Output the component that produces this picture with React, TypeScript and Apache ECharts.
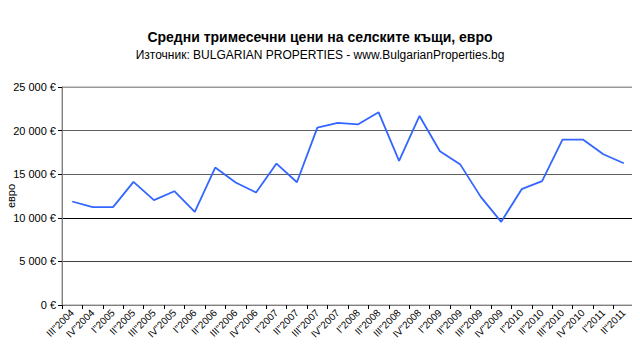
import React, { useEffect, useRef } from "react";
import * as echarts from "echarts";

const categories = [
  'III"2004', 'IV"2004', 'I"2005', 'II"2005', 'III"2005', 'IV"2005',
  'I"2006', 'II"2006', 'III"2006', 'IV"2006', 'I"2007', 'II"2007',
  'III"2007', 'IV"2007', 'I"2008', 'II"2008', 'III"2008', 'IV"2008',
  'I"2009', 'II"2009', 'III"2009', 'IV"2009', 'I"2010', 'II"2010',
  'III"2010', 'IV"2010', 'I"2011', 'II"2011',
];

const prices = [
  11870, 11220, 11220, 14120, 12020, 13050, 10690, 15760, 14050, 12900,
  16220, 14080, 20340, 20880, 20720, 22100, 16530, 21680, 17630, 16100,
  12400, 9540, 13280, 14200, 18970, 18970, 17290, 16260,
];

const yTicks = [0, 5000, 10000, 15000, 20000, 25000];

const fmt = (v: number) =>
  String(v).replace(/\B(?=(\d{3})+(?!\d))/g, " ") + " €";

export default function App() {
  const ref = useRef<HTMLDivElement>(null);
  useEffect(() => {
    const chart = echarts.init(ref.current!, undefined, { renderer: "svg" });
    chart.setOption({
      animation: false,
      backgroundColor: "#ffffff",
      title: [
        {
          text: "Средни тримесечни цени на селските къщи, евро",
          left: "center",
          top: 25,
          textStyle: { fontFamily: "Arial, Liberation Sans", fontSize: 14, fontWeight: "bold", color: "#000" },
        },
        {
          text: "Източник: BULGARIAN PROPERTIES - www.BulgarianProperties.bg",
          left: "center",
          top: 44,
          textStyle: { fontFamily: "Arial, Liberation Sans", fontSize: 12, fontWeight: "normal", color: "#000" },
        },
      ],
      grid: {
        left: 62, right: 6, top: 87, bottom: 59,
        containLabel: false,
        outerBoundsMode: "none",
        show: true, borderColor: "#999", borderWidth: 1,
      },
      xAxis: {
        type: "category",
        data: categories,
        boundaryGap: true,
        axisLine: { lineStyle: { color: "#808080", width: 1 } },
        axisTick: { show: true, length: 4, lineStyle: { color: "#000" } },
        axisLabel: {
          interval: 0,
          rotate: 45,
          margin: 6,
          fontFamily: "Arial, Liberation Sans",
          fontSize: 10,
          color: "#000",
        },
      },
      yAxis: {
        type: "value",
        min: 0,
        max: 25000,
        interval: 5000,
        name: "евро",
        nameLocation: "middle",
        nameGap: 46,
        nameRotate: 90,
        nameMoveOverlap: false,
        nameTextStyle: { fontFamily: "Arial, Liberation Sans", fontSize: 11, color: "#000" },
        axisLine: { show: true, lineStyle: { color: "#808080", width: 1 } },
        axisTick: { show: true, length: 4, lineStyle: { color: "#000" } },
        axisLabel: {
          margin: 6,
          formatter: (v: number) => (yTicks.includes(v) ? fmt(v) : ""),
          fontFamily: "Arial, Liberation Sans",
          fontSize: 11,
          color: "#000",
        },
        splitLine: {
          show: true,
          lineStyle: { color: ["#808080", "#404040", "#000000", "#606060", "#606060", "#999999"], width: 1 },
        },
      },
      series: [
        {
          type: "line",
          data: prices,
          symbol: "none",
          lineStyle: { color: "#3366ff", width: 1.8 },
        },
      ],
    });
    return () => chart.dispose();
  }, []);
  return <div ref={ref} style={{ width: 640, height: 364, margin: -8 }} />;
}
